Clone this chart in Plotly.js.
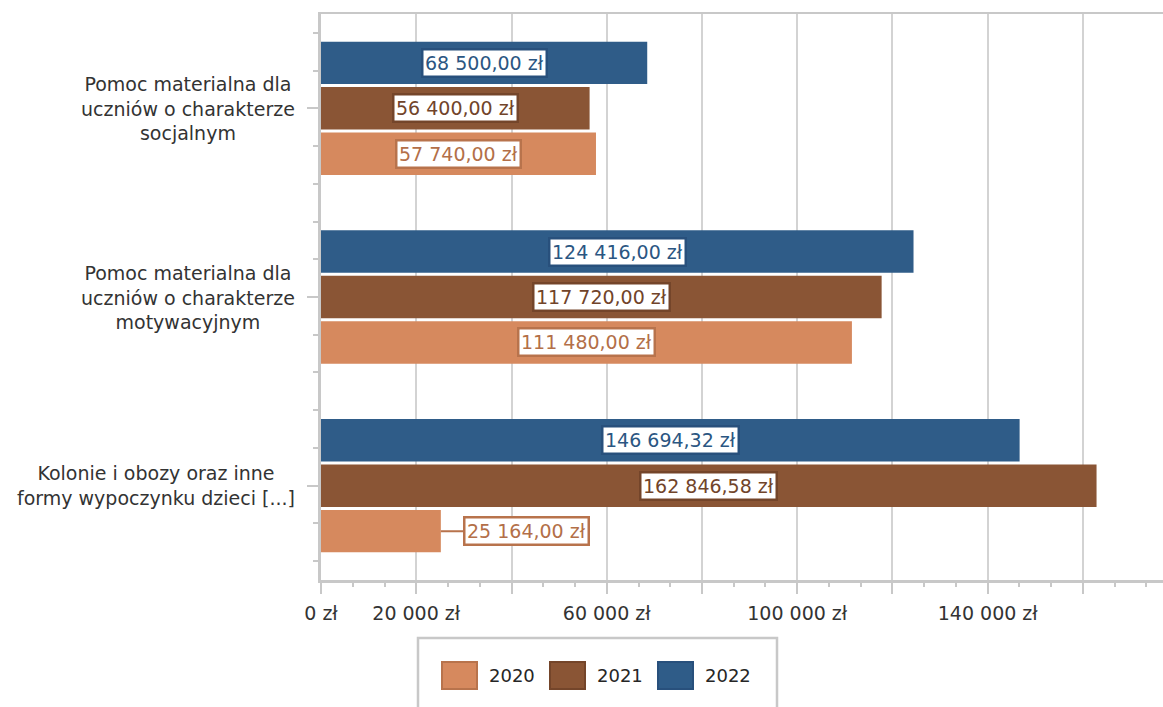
<!DOCTYPE html>
<html>
<head>
<meta charset="utf-8">
<script src="https://cdn.plot.ly/plotly-3.0.1.min.js"></script>
<style>
  html, body { margin: 0; padding: 0; background: #ffffff; }
  #chart { width: 1163px; height: 707px; }
</style>
</head>
<body>
<div id="chart"></div>
<script>
// ---------- data ----------
const categories = [
  'Pomoc materialna dla<br>uczniów o charakterze<br>socjalnym',
  'Pomoc materialna dla<br>uczniów o charakterze<br>motywacyjnym',
  'Kolonie i obozy oraz inne<br>formy wypoczynku dzieci [...]'
];
const years = ['2020', '2021', '2022'];
const values2020 = [57740.00, 111480.00, 25164.00];
const values2021 = [56400.00, 117720.00, 162846.58];
const values2022 = [68500.00, 124416.00, 146694.32];
const xTickValues = [0, 20000, 40000, 60000, 80000, 100000, 120000, 140000, 160000];
const xTickLabels = ['0 zł', '20 000 zł', '', '60 000 zł', '', '100 000 zł', '', '140 000 zł', ''];

// ---------- styles ----------
const barColors    = ['#D6895E', '#8A5535', '#2F5C88'];
const borderColors = ['#B8734C', '#74452A', '#28507C'];
const textColors   = ['#B36F48', '#71442A', '#2B5682'];
const FONT = 'DejaVu Sans, Verdana, sans-serif';
const AXIS_MAX = 176800;
const BARGAP = 0.277;
const BARGROUPGAP = 0.066;

// plot-area pixel geometry (for layout-only elements)
const W = 1163, H = 707;
const M = { l: 321, r: 0, t: 14, b: 127 };
const PW = W - M.l - M.r, PH = H - M.t - M.b;
const px2x = p => (p - M.l) / PW;
const px2y = p => (H - M.b - p) / PH;

const seriesValues = [values2020, values2021, values2022];
const n = categories.length;
const yIndex = categories.map((c, i) => n - 1 - i);

function fmtPLN(v) {
  const parts = v.toFixed(2).split('.');
  const intPart = parts[0].replace(/\B(?=(\d{3})+(?!\d))/g, '\u00a0');
  return intPart + ',' + parts[1] + ' zł';
}

const traces = years.map((yr, s) => ({
  type: 'bar',
  orientation: 'h',
  name: yr,
  x: seriesValues[s],
  y: yIndex,
  marker: { color: barColors[s], line: { width: 0 } },
  hoverinfo: 'x+name',
  showlegend: false
}));

// data labels
const annotations = [];
const slot = (1 - BARGAP) / years.length;
years.forEach((yr, s) => {
  seriesValues[s].forEach((v, i) => {
    const yPos = yIndex[i] + (s - (years.length - 1) / 2) * slot;
    const outside = v / AXIS_MAX < 0.2;
    annotations.push({
      x: outside ? v : v / 2,
      y: yPos,
      xref: 'x', yref: 'y',
      text: fmtPLN(v),
      showarrow: outside,
      arrowhead: 0,
      arrowwidth: 2,
      arrowcolor: borderColors[s],
      ax: outside ? 86 : 0,
      ay: 0,
      font: { family: FONT, size: 19, color: textColors[s] },
      bgcolor: '#ffffff',
      bordercolor: borderColors[s],
      borderwidth: 2.5,
      borderpad: 1.5,
      xanchor: 'center', yanchor: 'middle'
    });
  });
});

// category labels (centered multi-line, block right-aligned)
categories.forEach((c, i) => {
  annotations.push({
    x: px2x(297), y: yIndex[i], xref: 'paper', yref: 'y',
    text: c, showarrow: false, align: 'center',
    xanchor: 'right', yanchor: 'middle',
    font: { family: FONT, size: 19, color: '#333333' }
  });
});

// custom legend
const shapes = [];
const legendLeft = 418, legendRight = 777, legendTop = 638, legendBottom = 720;
shapes.push({
  type: 'rect', xref: 'paper', yref: 'paper',
  x0: px2x(legendLeft), x1: px2x(legendRight), y0: px2y(legendBottom), y1: px2y(legendTop),
  line: { color: '#C8C8C8', width: 2.5 }, fillcolor: '#ffffff', layer: 'above'
});
years.forEach((yr, s) => {
  const sx = 442 + s * 108;
  shapes.push({
    type: 'rect', xref: 'paper', yref: 'paper',
    x0: px2x(sx), x1: px2x(sx + 35), y0: px2y(689), y1: px2y(662),
    line: { color: borderColors[s], width: 2 }, fillcolor: barColors[s], layer: 'above'
  });
  annotations.push({
    x: px2x(sx + 45), y: px2y(675.5), xref: 'paper', yref: 'paper',
    text: yr, showarrow: false, xanchor: 'left', yanchor: 'middle',
    font: { family: FONT, size: 18, color: '#262626' }
  });
});

const layout = {
  width: W, height: H,
  margin: M,
  paper_bgcolor: '#ffffff',
  plot_bgcolor: '#ffffff',
  barmode: 'group',
  bargap: BARGAP,
  bargroupgap: BARGROUPGAP,
  showlegend: false,
  font: { family: FONT, size: 19, color: '#333333' },
  xaxis: {
    range: [0, AXIS_MAX],
    tickmode: 'array',
    tickvals: xTickValues,
    ticktext: xTickLabels,
    showgrid: true, gridcolor: '#D3D3D3', gridwidth: 2,
    zeroline: false,
    showline: true, mirror: true, linecolor: '#C8C8C8', linewidth: 2.5,
    ticks: 'outside', ticklen: 11, tickwidth: 2, tickcolor: '#C8C8C8',
    ticklabelstandoff: 4,
    tickfont: { family: FONT, size: 19, color: '#333333' },
    minor: { tickmode: 'linear', tick0: 0, dtick: 20000 / 3, ticks: 'outside', ticklen: 4, tickwidth: 2, tickcolor: '#C8C8C8', showgrid: false },
    fixedrange: true
  },
  yaxis: {
    range: [-0.5, n - 0.5],
    tickmode: 'array',
    tickvals: yIndex,
    showticklabels: false,
    showgrid: false, zeroline: false,
    showline: true, linecolor: '#C8C8C8', linewidth: 3,
    ticks: 'outside', ticklen: 11, tickwidth: 2, tickcolor: '#C8C8C8',
    minor: { tickmode: 'linear', tick0: 0, dtick: 0.2, ticks: 'outside', ticklen: 5, tickwidth: 2, tickcolor: '#C8C8C8', showgrid: false },
    fixedrange: true
  },
  annotations: annotations,
  shapes: shapes
};

Plotly.newPlot('chart', traces, layout, { displayModeBar: false, staticPlot: true });
</script>
</body>
</html>
